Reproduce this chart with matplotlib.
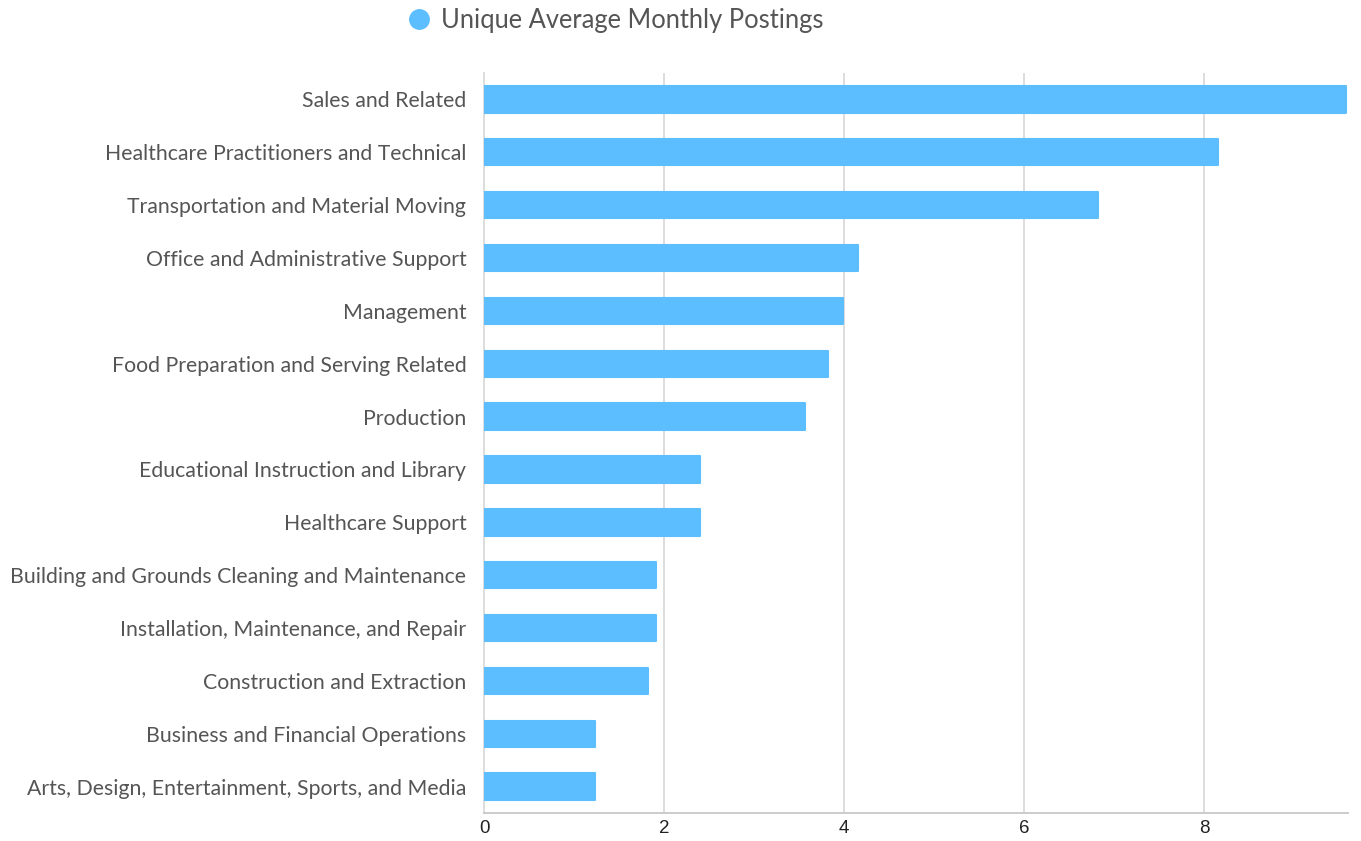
import matplotlib
matplotlib.use("Agg")
import matplotlib.pyplot as plt
from matplotlib.lines import Line2D

categories = [
    "Sales and Related",
    "Healthcare Practitioners and Technical",
    "Transportation and Material Moving",
    "Office and Administrative Support",
    "Management",
    "Food Preparation and Serving Related",
    "Production",
    "Educational Instruction and Library",
    "Healthcare Support",
    "Building and Grounds Cleaning and Maintenance",
    "Installation, Maintenance, and Repair",
    "Construction and Extraction",
    "Business and Financial Operations",
    "Arts, Design, Entertainment, Sports, and Media",
]
values = [9.58, 8.16, 6.82, 4.15, 3.99, 3.82, 3.57, 2.40, 2.40, 1.91, 1.91, 1.82, 1.23, 1.23]
xticks = [0, 2, 4, 6, 8]
series_name = "Unique Average Monthly Postings"

bar_color = "#5CBDFF"
label_color = "#555555"

fig = plt.figure(figsize=(13.61, 8.41), dpi=100)
ax = fig.add_axes([484/1361, 1 - 813/841, (1348-484)/1361, (813-73)/841])

y = list(range(len(categories)))
ax.barh(y, values, height=0.5, color=bar_color, edgecolor=bar_color,
        linewidth=1.5, joinstyle="round", zorder=3)

ax.set_ylim(len(categories) - 0.5, -0.5)
ax.set_xlim(0, 9.6)
ax.set_yticks(y)
ax.set_yticklabels(categories, fontfamily="Lato", fontsize=15.3, color=label_color)
ax.set_xticks(xticks)
ax.set_xticklabels([str(t) for t in xticks], fontfamily="Liberation Sans", fontsize=13.5, color="#222222")
ax.tick_params(axis="y", length=0, pad=12.7)
ax.tick_params(axis="x", length=0, pad=5)

ax.grid(axis="x", color="#dddddd", linewidth=1.4, zorder=0)
ax.set_axisbelow(True)
for s in ["top", "right"]:
    ax.spines[s].set_visible(False)
ax.spines["left"].set_color("#dddddd")
ax.spines["left"].set_linewidth(1.4)
ax.spines["bottom"].set_color("#cccccc")
ax.spines["bottom"].set_linewidth(1.4)

handle = Line2D([], [], marker="o", linestyle="none", markersize=14,
                markerfacecolor=bar_color, markeredgecolor=bar_color)
leg = fig.legend([handle], [series_name], loc="center left",
                 bbox_to_anchor=(396/1361, 1 - 20.5/841), frameon=False,
                 prop={"family": "Lato", "size": 18.4}, handletextpad=0.35,
                 handlelength=1.0, borderaxespad=0)
for t in leg.get_texts():
    t.set_color(label_color)

fig.savefig("out.png", dpi=100)
